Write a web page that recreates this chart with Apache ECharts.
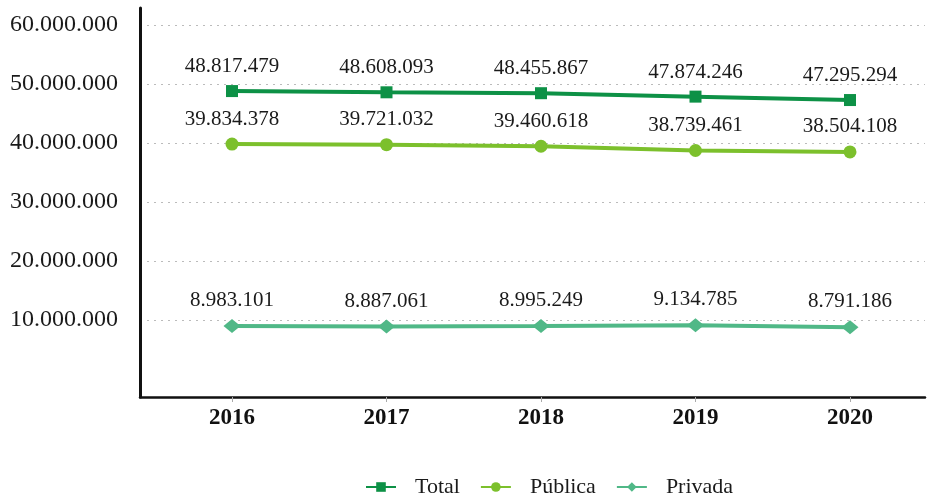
<!DOCTYPE html>
<html>
<head>
<meta charset="utf-8">
<script src="https://cdn.jsdelivr.net/npm/echarts@6/dist/echarts.min.js"></script>
<style>
  html, body { margin: 0; padding: 0; background: #fff; }
  #chart { width: 933px; height: 494px; }
</style>
</head>
<body>
<div id="chart"></div>
<script>
const years = [2016, 2017, 2018, 2019, 2020];
const total = [48817479, 48608093, 48455867, 47874246, 47295294];
const publica = [39834378, 39721032, 39460618, 38739461, 38504108];
const privada = [8983101, 8887061, 8995249, 9134785, 8791186];
const yTicks = [10000000, 20000000, 30000000, 40000000, 50000000, 60000000];

const fmt = v => String(Math.round(v)).replace(/\B(?=(\d{3})+(?!\d))/g, '.');
const font = '"Liberation Serif", serif';

function line(name, values, color, symbol, size) {
  return {
    name: name,
    type: 'line',
    data: years.map((y, i) => [y, values[i]]),
    symbol: symbol,
    symbolSize: size,
    lineStyle: { color: color, width: 4 },
    itemStyle: { color: color },
    label: {
      show: true,
      position: 'top',
      distance: 8,
      color: '#1a1a1a',
      fontFamily: font,
      fontSize: 21,
      formatter: p => fmt(p.value[1])
    }
  };
}

const chart = echarts.init(document.getElementById('chart'));
chart.setOption({
  animation: false,
  grid: { left: 140, right: 8, top: 8, bottom: 97 },
  legend: {
    top: 471,
    left: 360,
    itemWidth: 30,
    itemHeight: 12,
    itemGap: 20,
    textStyle: { fontFamily: font, fontSize: 22, color: '#1a1a1a', padding: [0, 0, 0, 14] },
    data: ['Total', 'Pública', 'Privada']
  },
  xAxis: {
    type: 'value',
    min: 2015.4045,
    max: 2020.4855,
    axisLine: { show: true, onZero: false, lineStyle: { color: '#111', width: 2.5 } },
    axisTick: { show: true, customValues: years, length: 5, lineStyle: { color: '#aaa' } },
    splitLine: { show: false },
    axisLabel: {
      customValues: years,
      margin: 10,
      color: '#111',
      fontFamily: font,
      fontWeight: 'bold',
      fontSize: 23,
      formatter: v => String(v)
    }
  },
  yAxis: {
    type: 'value',
    min: -3050000,
    max: 62900000,
    axisLine: { show: true, onZero: false, lineStyle: { color: '#111', width: 3 } },
    axisTick: { show: false, customValues: yTicks },
    splitLine: { show: true, lineStyle: { color: '#bbb', type: [2, 5], width: 1 } },
    axisLabel: {
      customValues: yTicks,
      margin: 22,
      color: '#1a1a1a',
      fontFamily: font,
      fontSize: 24,
      formatter: v => fmt(v)
    }
  },
  series: [
    line('Total', total, '#0d9146', 'rect', 12),
    line('Pública', publica, '#7cc02c', 'circle', 13),
    line('Privada', privada, '#50b887', 'diamond', [17, 14])
  ]
});
</script>
</body>
</html>
